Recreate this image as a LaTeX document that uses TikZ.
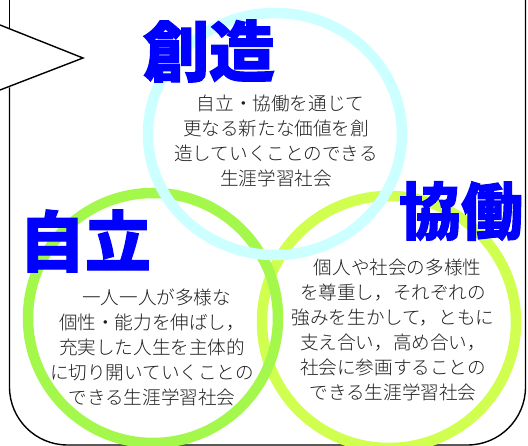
\documentclass[tikz,border=0pt]{standalone}
\usepackage{fontspec}
\newfontfamily\jp{Noto Sans CJK JP}[BoldFeatures={FakeBold=1.6}]
\newfontfamily\jplight{Noto Sans CJK JP Light}
\definecolor{ringcyan}{RGB}{204,255,255}
\definecolor{ringgreen}{RGB}{164,248,76}
\definecolor{ringyellow}{RGB}{208,255,80}
\definecolor{titleblue}{RGB}{0,0,255}
\definecolor{bodygray}{RGB}{30,30,30}
\tikzset{
  frameline/.style={draw=black, line width=1.4pt},
  ring/.style={line width=10.5pt},
  bigtitle/.style={font={\jp\bfseries\fontsize{66}{66}\selectfont}, text=titleblue, inner sep=0pt},
  bodytext/.style={font={\jplight\fontsize{18.6}{25}\selectfont}, text=bodygray, align=center, inner sep=0pt}
}
\begin{document}
\begin{tikzpicture}[x=1pt,y=-1pt]
\useasboundingbox (0,0) rectangle (528,446);
\fill[white] (0,0) rectangle (528,446);
% frame
\coordinate (ltop) at (9.5,0);
\coordinate (lnotchA) at (9.5,28.6);
\coordinate (lnotchB) at (9.5,87.5);
\coordinate (pA) at (0,25);
\coordinate (tip) at (83,58);
\coordinate (pB) at (0,90);
\coordinate (rtop) at (525.5,0);
\draw[frameline] (ltop) -- (lnotchA);
\draw[frameline, line join=miter] (pA) -- (tip) -- (pB);
\draw[frameline, rounded corners=58pt] (lnotchB) -- (9.5,445) -- (525.5,445) -- (rtop);
% rings
\draw[ring, ringyellow] (389,322) ellipse [x radius=127, y radius=126];
\draw[ring, ringgreen] (153,318) ellipse [x radius=125, y radius=125];
\draw[ring, ringcyan] (275,134) ellipse [x radius=127, y radius=121];
% titles
\node[bigtitle] (sozo) at (209,51) {創造};
\node[bigtitle] (jiritsu) at (85,241) {自立};
\node[bigtitle, font={\jp\bfseries\fontsize{62}{62}\selectfont}] (kyodo) at (461,211) {協働};
% body texts
\node[bodytext] (sozotext) at (276,140.5) {\hspace*{0.5em}自立・協働を通じて\\更なる新たな価値を創\\造していくことのできる\\生涯学習社会};
\node[bodytext] (jiritsutext) at (152,347) {\hspace*{0.5em}一人一人が多様な\\個性・能力を伸ばし，\\充実した人生を主体的\\に切り開いていくことの\\できる生涯学習社会};
\node[bodytext] (kyodotext) at (393,329.5) {\hspace*{0.5em}個人や社会の多様性\\を尊重し，それぞれの\\強みを生かして，ともに\\支え合い，高め合い，\\社会に参画することの\\できる生涯学習社会};
\end{tikzpicture}
\end{document}
